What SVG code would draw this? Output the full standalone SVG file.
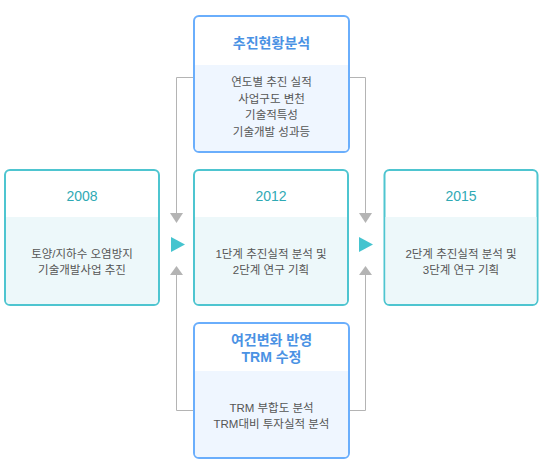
<svg xmlns="http://www.w3.org/2000/svg" width="543" height="473" viewBox="0 0 543 473">
<defs>
<style>
text{font-family:"Liberation Sans","Noto Sans CJK KR",sans-serif;text-anchor:middle}
.body{font-size:11.5px;fill:#555}
.ttl-b{font-size:14px;font-weight:bold;fill:#4a92e4}
.ttl-t{font-size:14px;fill:#2fa9b4}
.bb{fill:#fff;stroke:#6aaefc;stroke-width:2}
.tb{fill:#fff;stroke:#4ec5d0;stroke-width:2}
.bfill{fill:#eff6ff}
.tfill{fill:#edf8fa}
.con{fill:none;stroke:#b4b4b4;stroke-width:1}
.ah{fill:#b4b4b4}
.play{fill:#45c4cf}
</style>
</defs>
<g id="connectors">
<path class="con" d="M194,77.5 H176.5 V214"/>
<path class="con" d="M194,410.5 H176.5 V274"/>
<path class="con" d="M349,77.5 H365.5 V214"/>
<path class="con" d="M349,410.5 H365.5 V274"/>
<polygon class="ah" points="170,213 183,213 176.5,223"/>
<polygon class="ah" points="176.5,266 170,275 183,275"/>
<polygon class="ah" points="359,213 372,213 365.5,223"/>
<polygon class="ah" points="365.5,266 359,275 372,275"/>
<polygon class="play" points="171,237 185,244.5 171,252"/>
<polygon class="play" points="359,237 373,244.5 359,252"/>
</g>
<g id="top">
<rect class="bb" x="194" y="16" width="155" height="136" rx="5"/>
<path class="bfill" d="M195,65 H348 V147 a4,4 0 0 1 -4,4 H199 a4,4 0 0 1 -4,-4 Z"/>
<text class="ttl-b" x="271.5" y="48">추진현황분석</text>
<text class="body" x="271.5" y="86">연도별 추진 실적</text>
<text class="body" x="271.5" y="102.5">사업구도 변천</text>
<text class="body" x="271.5" y="119">기술적특성</text>
<text class="body" x="271.5" y="135.5">기술개발 성과등</text>
</g>
<g id="n2008">
<rect class="tb" x="5" y="170" width="154" height="135" rx="5"/>
<path class="tfill" d="M6,217 H158 V300 a4,4 0 0 1 -4,4 H10 a4,4 0 0 1 -4,-4 Z"/>
<text class="ttl-t" x="82" y="201">2008</text>
<text class="body" x="82" y="258">토양/지하수 오염방지</text>
<text class="body" x="82" y="274">기술개발사업 추진</text>
</g>
<g id="n2012">
<rect class="tb" x="194" y="170" width="154" height="135" rx="5"/>
<path class="tfill" d="M195,217 H347 V300 a4,4 0 0 1 -4,4 H199 a4,4 0 0 1 -4,-4 Z"/>
<text class="ttl-t" x="271" y="201">2012</text>
<text class="body" x="271" y="258">1단계 추진실적 분석 및</text>
<text class="body" x="271" y="274">2단계 연구 기획</text>
</g>
<g id="n2015">
<rect class="tb" x="384.5" y="170" width="153" height="135" rx="5"/>
<path class="tfill" d="M385.5,217 H536.5 V300 a4,4 0 0 1 -4,4 H389.5 a4,4 0 0 1 -4,-4 Z"/>
<text class="ttl-t" x="461" y="201">2015</text>
<text class="body" x="461" y="258">2단계 추진실적 분석 및</text>
<text class="body" x="461" y="274">3단계 연구 기획</text>
</g>
<g id="bottom">
<rect class="bb" x="194" y="323" width="155" height="135" rx="5"/>
<path class="bfill" d="M195,371 H348 V453 a4,4 0 0 1 -4,4 H199 a4,4 0 0 1 -4,-4 Z"/>
<text class="ttl-b" x="271.5" y="345">여건변화 반영</text>
<text class="ttl-b" x="271.5" y="362">TRM 수정</text>
<text class="body" x="271.5" y="412">TRM 부합도 분석</text>
<text class="body" x="271.5" y="428">TRM대비 투자실적 분석</text>
</g>
</svg>
